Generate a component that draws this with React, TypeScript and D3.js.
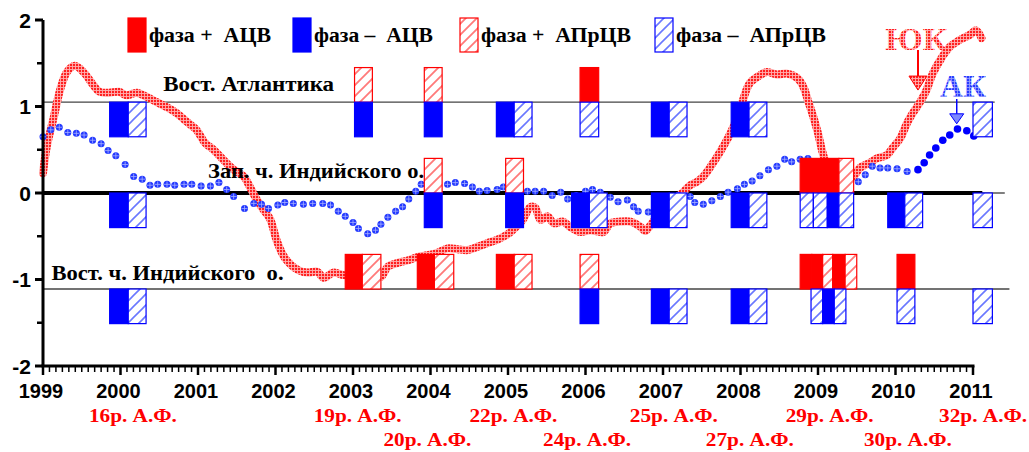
import React from 'react';
import * as d3 from 'd3';

const WIDTH = 1029;
const HEIGHT = 452;

const yearTicks = [1999, 2000, 2001, 2002, 2003, 2004, 2005, 2006, 2007, 2008, 2009, 2010, 2011];
const valueTicks = [-2, -1, 0, 1, 2];
const minorValueTicks = [-1.5, -0.5, 0.5, 1.5];

// ЮК (thick red textured line): [year, value]
const ukSeries: [number, number][] = [
  [1999.0, 0.23], [1999.05, 0.54], [1999.14, 0.88], [1999.22, 1.19], [1999.31, 1.40], [1999.41, 1.47],
  [1999.53, 1.39], [1999.63, 1.27], [1999.73, 1.17], [1999.85, 1.16], [1999.98, 1.17], [2000.08, 1.13],
  [2000.21, 1.16], [2000.34, 1.11], [2000.47, 1.05], [2000.60, 0.99], [2000.73, 0.92], [2000.86, 0.82],
  [2000.98, 0.73], [2001.09, 0.58], [2001.20, 0.50], [2001.33, 0.38], [2001.46, 0.27], [2001.59, 0.19],
  [2001.67, 0.07], [2001.76, -0.08], [2001.85, -0.20], [2001.93, -0.30], [2002.02, -0.56], [2002.12, -0.75],
  [2002.29, -0.89], [2002.42, -0.92], [2002.54, -0.91], [2002.62, -0.98], [2002.75, -0.92], [2002.88, -0.95],
  [2003.0, -0.96], [2003.12, -0.97], [2003.25, -0.95], [2003.36, -0.97], [2003.45, -0.85], [2003.57, -0.81],
  [2003.70, -0.78], [2003.83, -0.74], [2003.96, -0.72], [2004.09, -0.69], [2004.22, -0.64], [2004.35, -0.65],
  [2004.48, -0.66], [2004.61, -0.62], [2004.73, -0.58], [2004.86, -0.54], [2004.99, -0.48], [2005.07, -0.42],
  [2005.19, -0.31], [2005.29, -0.16], [2005.35, -0.17], [2005.42, -0.31], [2005.51, -0.27], [2005.59, -0.35],
  [2005.71, -0.33], [2005.80, -0.39], [2005.93, -0.45], [2006.06, -0.43], [2006.23, -0.45], [2006.32, -0.35],
  [2006.45, -0.33], [2006.58, -0.33], [2006.71, -0.39], [2006.77, -0.44], [2006.84, -0.37], [2007.04, -0.15],
  [2007.26, 0.01], [2007.35, 0.09], [2007.44, 0.13], [2007.52, 0.19], [2007.61, 0.30], [2007.74, 0.48],
  [2007.87, 0.69], [2007.96, 0.88], [2008.03, 1.07], [2008.12, 1.27], [2008.25, 1.36], [2008.34, 1.40],
  [2008.47, 1.37], [2008.60, 1.38], [2008.73, 1.33], [2008.81, 1.23], [2008.87, 1.07], [2008.94, 0.88],
  [2009.0, 0.69], [2009.05, 0.50], [2009.09, 0.38], [2009.18, 0.25], [2009.28, 0.15], [2009.45, 0.18],
  [2009.54, 0.29], [2009.67, 0.35], [2009.76, 0.40], [2009.89, 0.44], [2009.97, 0.53], [2010.06, 0.63],
  [2010.15, 0.81], [2010.22, 0.92], [2010.31, 1.04], [2010.40, 1.19], [2010.48, 1.38], [2010.60, 1.57],
  [2010.70, 1.69], [2010.83, 1.77], [2010.96, 1.83], [2011.04, 1.88], [2011.11, 1.79],
];

// АК (blue dotted line, crossed dots): [year, value]
const akSeries: [number, number][] = [
  [1999.0, 0.65], [1999.10, 0.73], [1999.21, 0.76], [1999.32, 0.70], [1999.43, 0.69], [1999.53, 0.67],
  [1999.64, 0.61], [1999.75, 0.57], [1999.84, 0.49], [1999.94, 0.43], [2000.06, 0.33], [2000.17, 0.19],
  [2000.28, 0.16], [2000.38, 0.09], [2000.48, 0.10], [2000.60, 0.10], [2000.70, 0.09], [2000.82, 0.10],
  [2000.92, 0.10], [2001.04, 0.08], [2001.16, 0.08], [2001.27, 0.12], [2001.37, 0.04], [2001.46, -0.04],
  [2001.60, -0.18], [2001.72, -0.12], [2001.82, -0.13], [2001.91, -0.18], [2002.03, -0.14], [2002.12, -0.11],
  [2002.23, -0.12], [2002.36, -0.13], [2002.48, -0.12], [2002.61, -0.12], [2002.71, -0.14], [2002.81, -0.21],
  [2002.90, -0.27], [2003.0, -0.34], [2003.07, -0.41], [2003.19, -0.47], [2003.29, -0.43], [2003.36, -0.36],
  [2003.45, -0.28], [2003.55, -0.21], [2003.64, -0.16], [2003.72, -0.07], [2003.81, 0.02], [2003.88, 0.10],
  [2004.0, 0.10], [2004.10, 0.10], [2004.22, 0.10], [2004.32, 0.12], [2004.44, 0.11], [2004.54, 0.07],
  [2004.63, 0.02], [2004.73, 0.03], [2004.86, 0.04], [2004.94, 0.07], [2005.06, 0.05], [2005.16, 0.03],
  [2005.25, 0.02], [2005.35, 0.02], [2005.46, 0.02], [2005.57, -0.03], [2005.68, 0.01], [2005.77, -0.07],
  [2005.88, -0.03], [2006.0, 0.02], [2006.09, 0.04], [2006.19, 0.01], [2006.32, -0.05], [2006.42, -0.10],
  [2006.54, -0.08], [2006.62, -0.16], [2006.68, -0.21], [2006.81, -0.22], [2006.94, -0.15], [2007.07, -0.08],
  [2007.20, -0.03], [2007.35, -0.04], [2007.41, -0.11], [2007.52, -0.13], [2007.63, -0.09], [2007.74, -0.04],
  [2007.84, 0.01], [2007.96, 0.05], [2008.05, 0.10], [2008.15, 0.14], [2008.25, 0.20], [2008.36, 0.27],
  [2008.47, 0.31], [2008.57, 0.39], [2008.66, 0.36], [2008.77, 0.39], [2008.87, 0.40], [2008.99, 0.30],
  [2009.10, 0.20], [2009.21, 0.10], [2009.31, 0.05], [2009.41, 0.02], [2009.52, 0.13], [2009.61, 0.21],
  [2009.70, 0.31], [2009.80, 0.29], [2009.90, 0.29], [2010.02, 0.28], [2010.15, 0.25],
];

// АК latest part (solid blue dots)
const akRecentSeries: [number, number][] = [
  [2010.29, 0.27], [2010.37, 0.35], [2010.44, 0.44], [2010.52, 0.52], [2010.61, 0.61],
  [2010.70, 0.67], [2010.80, 0.74], [2010.92, 0.72], [2011.01, 0.66],
];

// Regions and their baselines (value units)
const regionNames = ['Вост. Атлантика', 'Зап. ч. Индийского о.', 'Вост. ч. Индийского  о.'];
const regionBaselines = [1.05, 0, -1.11];
const regionLineEnds = [2011.28, 2011.41, 2011.47];
const phaseBarHeight = 0.4;

// Phase bars: [regionIndex, fromYear, toYear, phase(+1/-1), kind ('s' = АЦВ solid, 'h' = АПрЦВ hatched)]
const phaseBars: [number, number, number, number, string][] = [
  [0, 1999.86, 2000.10, -1, 's'], [0, 2000.10, 2000.33, -1, 'h'],
  [0, 2003.02, 2003.25, 1, 'h'], [0, 2003.02, 2003.25, -1, 's'],
  [0, 2003.92, 2004.15, 1, 'h'], [0, 2003.92, 2004.15, -1, 's'],
  [0, 2004.85, 2005.08, -1, 's'], [0, 2005.08, 2005.31, -1, 'h'],
  [0, 2005.93, 2006.17, 1, 's'], [0, 2005.93, 2006.17, -1, 'h'],
  [0, 2006.85, 2007.08, -1, 's'], [0, 2007.08, 2007.31, -1, 'h'],
  [0, 2007.88, 2008.11, -1, 's'], [0, 2008.11, 2008.34, -1, 'h'],
  [0, 2011.0, 2011.25, -1, 'h'],

  [1, 1999.86, 2000.10, -1, 's'], [1, 2000.10, 2000.33, -1, 'h'],
  [1, 2003.92, 2004.15, 1, 'h'], [1, 2003.92, 2004.15, -1, 's'],
  [1, 2004.97, 2005.20, 1, 'h'], [1, 2004.97, 2005.20, -1, 's'],
  [1, 2005.82, 2006.05, -1, 's'], [1, 2006.05, 2006.28, -1, 'h'],
  [1, 2006.85, 2007.08, -1, 's'], [1, 2007.08, 2007.31, -1, 'h'],
  [1, 2007.88, 2008.11, -1, 's'], [1, 2008.11, 2008.34, -1, 'h'],
  [1, 2008.77, 2009.27, 1, 's'], [1, 2009.27, 2009.46, 1, 'h'],
  [1, 2008.77, 2008.94, -1, 'h'], [1, 2008.94, 2009.12, -1, 'h'], [1, 2009.12, 2009.27, -1, 's'], [1, 2009.27, 2009.46, -1, 'h'],
  [1, 2009.90, 2010.12, -1, 's'], [1, 2010.12, 2010.35, -1, 'h'],
  [1, 2011.0, 2011.25, -1, 'h'],

  [2, 1999.86, 2000.10, -1, 's'], [2, 2000.10, 2000.33, -1, 'h'],
  [2, 2002.90, 2003.12, 1, 's'], [2, 2003.12, 2003.36, 1, 'h'],
  [2, 2003.83, 2004.05, 1, 's'], [2, 2004.05, 2004.30, 1, 'h'],
  [2, 2004.85, 2005.08, 1, 's'], [2, 2005.08, 2005.31, 1, 'h'],
  [2, 2005.93, 2006.17, 1, 'h'], [2, 2005.93, 2006.17, -1, 's'],
  [2, 2006.85, 2007.08, -1, 's'], [2, 2007.08, 2007.31, -1, 'h'],
  [2, 2007.88, 2008.11, -1, 's'], [2, 2008.11, 2008.34, -1, 'h'],
  [2, 2008.77, 2008.92, 1, 's'], [2, 2008.92, 2009.06, 1, 's'], [2, 2009.06, 2009.19, 1, 'h'],
  [2, 2009.19, 2009.35, 1, 's'], [2, 2009.35, 2009.50, 1, 'h'],
  [2, 2008.91, 2009.06, -1, 'h'], [2, 2009.06, 2009.21, -1, 's'], [2, 2009.21, 2009.36, -1, 'h'],
  [2, 2010.02, 2010.25, 1, 's'], [2, 2010.02, 2010.25, -1, 'h'],
  [2, 2011.0, 2011.25, -1, 'h'],
];

// Event labels (red, under the axis)
const eventLabels = ['16р. А.Ф.', '19р. А.Ф.', '20р. А.Ф.', '22р. А.Ф.', '24р. А.Ф.', '25р. А.Ф.', '27р. А.Ф.', '29р. А.Ф.', '30р. А.Ф.', '32р. А.Ф.'];
const eventYears = [2000.16, 2003.06, 2003.96, 2005.07, 2006.02, 2007.14, 2008.12, 2009.15, 2010.16, 2011.13];
const eventRows = [0, 0, 1, 0, 1, 0, 1, 0, 1, 0];

const legendLabels = ['фаза +  АЦВ', 'фаза –  АЦВ', 'фаза +  АПрЦВ', 'фаза –  АПрЦВ'];
const legendPhases = [1, -1, 1, -1];
const legendKinds = ['s', 's', 'h', 'h'];

const RED = '#ff0000';
const BLUE = '#0000ff';
const SERIF = '"Liberation Serif", "Times New Roman", serif';
const SANS = '"Liberation Sans", Arial, sans-serif';

export default function App() {
  const x = d3.scaleLinear().domain([1999, 2011]).range([43, 973]);
  const y = d3.scaleLinear().domain([-2, 2]).range([366, 20]);
  const line = d3
    .line<[number, number]>()
    .x((d) => x(d[0]))
    .y((d) => y(d[1]))
    .curve(d3.curveCatmullRom.alpha(0.5));
  const monthTicks = d3.range(0, 12 * 12 + 1).map((i) => 1999 + i / 12).filter((v) => Math.abs(v - Math.round(v)) > 1e-6);

  const legendX = [128, 293, 460, 655];
  const legendTextLen = [122, 119, 150, 150];

  const barColor = (phase: number) => (phase > 0 ? RED : BLUE);
  const barFill = (phase: number, kind: string) =>
    kind === 's' ? barColor(phase) : phase > 0 ? 'url(#hatchRed)' : 'url(#hatchBlue)';

  const ukArrowX = x(2010.29);
  const ukArrowTip = y(1.19);
  const akArrowX = x(2010.79);
  const akArrowTip = y(0.8);

  return (
    <svg
      width={WIDTH}
      height={HEIGHT}
      viewBox={`0 0 ${WIDTH} ${HEIGHT}`}
      style={{ position: 'absolute', left: 0, top: 0, background: '#fff' }}
    >
      <defs>
        <pattern id="hatchRed" patternUnits="userSpaceOnUse" width="11" height="11">
          <rect width="11" height="11" fill="#fff" />
          <path d="M0,11 L11,0 M-3,3 L3,-3 M8,14 L14,8" stroke="#ff7a7a" strokeWidth="1.8" />
        </pattern>
        <pattern id="hatchBlue" patternUnits="userSpaceOnUse" width="11" height="11">
          <rect width="11" height="11" fill="#fff" />
          <path d="M0,11 L11,0 M-3,3 L3,-3 M8,14 L14,8" stroke="#6a78ff" strokeWidth="1.6" />
        </pattern>
        <pattern id="ukTex" patternUnits="userSpaceOnUse" width="3" height="3">
          <rect width="3" height="3" fill="#ff2020" />
          <path d="M0,0.5 H3 M0.5,0 V3" stroke="#ffb0b0" strokeWidth="0.9" />
        </pattern>
        <pattern id="akTex" patternUnits="userSpaceOnUse" width="3" height="3">
          <rect width="3" height="3" fill="#2a3cff" />
          <path d="M0,0.5 H3 M0.5,0 V3" stroke="#9aa4ff" strokeWidth="0.8" />
        </pattern>
      </defs>

      {/* region baselines */}
      {regionBaselines.map((b, i) =>
        i === 1 ? (
          <g key={i}>
            <line x1={x(1999)} x2={x(regionLineEnds[i])} y1={y(b)} y2={y(b)} stroke="#555" strokeWidth={1.5} />
            <line x1={x(1999)} x2={x(2011.12)} y1={y(b)} y2={y(b)} stroke="#000" strokeWidth={4} />
          </g>
        ) : (
          <line key={i} x1={x(1999)} x2={x(regionLineEnds[i])} y1={y(b)} y2={y(b)} stroke="#444" strokeWidth={1.3} />
        )
      )}

      {/* ЮК line */}
      <path d={line(ukSeries) || ''} fill="none" stroke="url(#ukTex)" strokeWidth={8} strokeLinejoin="round" strokeLinecap="round" />

      {/* АК dotted line */}
      {akSeries.map((d, i) => (
        <g key={`ak${i}`} transform={`translate(${x(d[0])},${y(d[1])})`}>
          <circle r={3.5} fill="#2238ff" />
          <path d="M-3,0 H3 M0,-3 V3" stroke="#aab3ff" strokeWidth={0.8} />
        </g>
      ))}
      {akRecentSeries.map((d, i) => (
        <circle key={`akr${i}`} cx={x(d[0])} cy={y(d[1])} r={3.8} fill={BLUE} />
      ))}

      {/* phase bars */}
      {phaseBars.map(([r, from, to, phase, kind], i) => {
        const base = regionBaselines[r];
        const top = phase > 0 ? y(base + phaseBarHeight) : y(base);
        const bottom = phase > 0 ? y(base) : y(base - phaseBarHeight);
        return (
          <rect
            key={`bar${i}`}
            x={x(from)}
            y={top}
            width={x(to) - x(from)}
            height={bottom - top}
            fill={barFill(phase, kind)}
            stroke={barColor(phase)}
            strokeWidth={1.2}
          />
        );
      })}

      {/* region labels */}
      <text x={x(2000.55)} y={y(1.18)} fontFamily={SERIF} fontWeight="bold" fontSize={20} fill="#000" textLength={171} lengthAdjust="spacingAndGlyphs">
        {regionNames[0]}
      </text>
      <text x={x(2001.13)} y={y(0.175)} fontFamily={SERIF} fontWeight="bold" fontSize={20} fill="#000" textLength={216} lengthAdjust="spacingAndGlyphs">
        {regionNames[1]}
      </text>
      <text x={x(1999.11)} y={y(-1.0)} fontFamily={SERIF} fontWeight="bold" fontSize={20} fill="#000" textLength={232} lengthAdjust="spacingAndGlyphs" xmlSpace="preserve">
        {regionNames[2]}
      </text>

      {/* Y axis */}
      <line x1={43} x2={43} y1={y(2)} y2={y(-2)} stroke="#000" strokeWidth={3} />
      {valueTicks.map((v) => (
        <g key={`yt${v}`}>
          <line x1={35} x2={43} y1={y(v)} y2={y(v)} stroke="#000" strokeWidth={3} />
          <text x={31} y={y(v)} dy="0.36em" textAnchor="end" fontFamily={SANS} fontWeight="bold" fontSize={21} fill="#000">
            {v}
          </text>
        </g>
      ))}
      {minorValueTicks.map((v) => (
        <line key={`ymt${v}`} x1={37} x2={43} y1={y(v)} y2={y(v)} stroke="#000" strokeWidth={2.5} />
      ))}

      {/* X axis */}
      <line x1={x(1999) - 1.5} x2={x(2011) + 1.5} y1={y(-2)} y2={y(-2)} stroke="#000" strokeWidth={3} />
      {monthTicks.map((m, i) => (
        <line key={`mt${i}`} x1={x(m)} x2={x(m)} y1={y(-2)} y2={y(-2) + 6} stroke="#000" strokeWidth={1.5} />
      ))}
      {yearTicks.map((t) => (
        <g key={`xt${t}`}>
          <line x1={x(t)} x2={x(t)} y1={y(-2)} y2={y(-2) + 9} stroke="#000" strokeWidth={2.5} />
          <text x={x(t) - 2} y={398} textAnchor="middle" fontFamily={SANS} fontWeight="bold" fontSize={20} fill="#000">
            {t}
          </text>
        </g>
      ))}

      {/* event labels */}
      {eventLabels.map((lab, i) => (
        <text
          key={`ev${i}`}
          x={x(eventYears[i]) - 44}
          y={eventRows[i] === 0 ? 422 : 446}
          fontFamily={SERIF}
          fontWeight="bold"
          fontSize={19}
          fill={RED}
          textLength={88}
          lengthAdjust="spacingAndGlyphs"
        >
          {lab}
        </text>
      ))}

      {/* legend */}
      {legendLabels.map((lab, i) => (
        <g key={`lg${i}`}>
          <rect
            x={legendX[i]}
            y={18}
            width={18}
            height={34}
            fill={barFill(legendPhases[i], legendKinds[i])}
            stroke={barColor(legendPhases[i])}
            strokeWidth={1.2}
          />
          <text
            x={legendX[i] + 21}
            y={42}
            fontFamily={SERIF}
            fontWeight="bold"
            fontSize={20}
            fill="#000"
            xmlSpace="preserve"
            textLength={legendTextLen[i]}
            lengthAdjust="spacingAndGlyphs"
          >
            {lab}
          </text>
        </g>
      ))}

      {/* ЮК / АК annotations */}
      <text x={885} y={50} fontFamily={SERIF} fontWeight="bold" fontSize={32} fill="url(#ukTex)" textLength={62} lengthAdjust="spacingAndGlyphs">
        ЮК
      </text>
      <line x1={ukArrowX} x2={ukArrowX} y1={50} y2={ukArrowTip - 14} stroke={RED} strokeWidth={2} />
      <path d={`M${ukArrowX - 9},${ukArrowTip - 14} L${ukArrowX + 9},${ukArrowTip - 14} L${ukArrowX},${ukArrowTip} Z`} fill="url(#ukTex)" stroke={RED} strokeWidth={1} />

      <text x={940} y={97} fontFamily={SERIF} fontWeight="bold" fontSize={31} fill="url(#akTex)" textLength={46} lengthAdjust="spacingAndGlyphs">
        АК
      </text>
      <line x1={akArrowX} x2={akArrowX} y1={99} y2={akArrowTip - 10} stroke={BLUE} strokeWidth={1.5} />
      <path d={`M${akArrowX - 7},${akArrowTip - 10} L${akArrowX + 7},${akArrowTip - 10} L${akArrowX},${akArrowTip} Z`} fill="#7d88ff" stroke={BLUE} strokeWidth={1} />
    </svg>
  );
}
